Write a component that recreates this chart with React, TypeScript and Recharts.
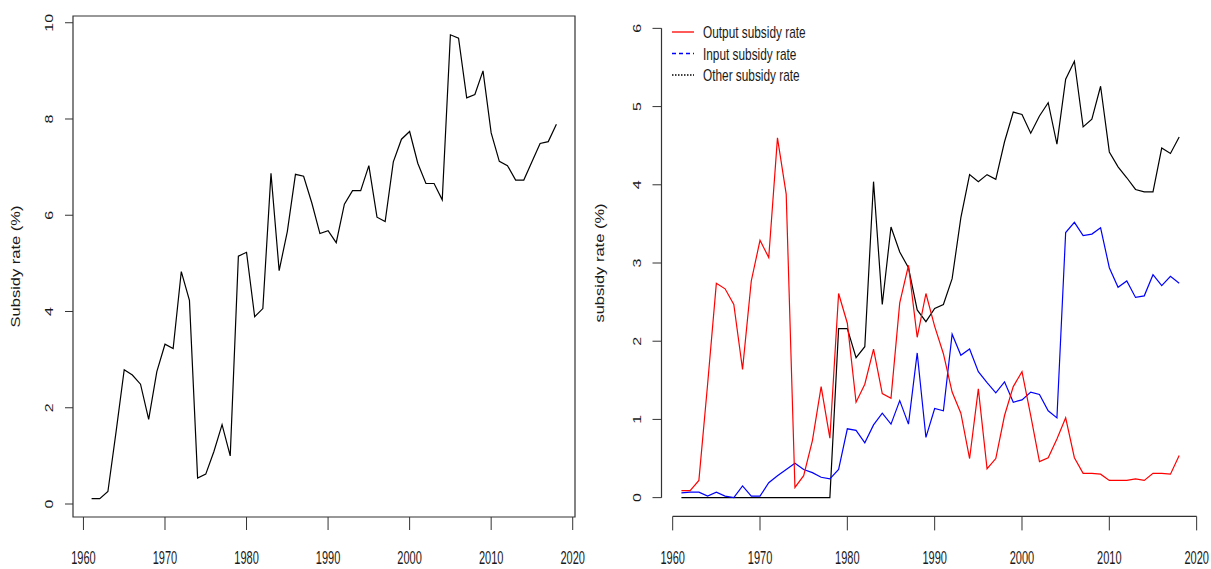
import React from "react";
import {
  LineChart,
  Line,
  XAxis,
  YAxis,
  ReferenceArea,
  ReferenceLine,
  Legend,
} from "recharts";

const years = [
  1961, 1962, 1963, 1964, 1965, 1966, 1967, 1968, 1969, 1970, 1971, 1972,
  1973, 1974, 1975, 1976, 1977, 1978, 1979, 1980, 1981, 1982, 1983, 1984,
  1985, 1986, 1987, 1988, 1989, 1990, 1991, 1992, 1993, 1994, 1995, 1996,
  1997, 1998, 1999, 2000, 2001, 2002, 2003, 2004, 2005, 2006, 2007, 2008,
  2009, 2010, 2011, 2012, 2013, 2014, 2015, 2016, 2017, 2018,
];

// left panel: total subsidy rate
const totalRate = [
  0.11, 0.11, 0.26, 1.5, 2.79, 2.68, 2.49, 1.76, 2.75, 3.32, 3.23, 4.83,
  4.23, 0.54, 0.62, 1.09, 1.65, 1.0, 5.15, 5.23, 3.89, 4.06, 6.87, 4.85,
  5.66, 6.85, 6.81, 6.26, 5.62, 5.68, 5.43, 6.23, 6.51, 6.51, 7.03, 5.96,
  5.87, 7.11, 7.58, 7.74, 7.08, 6.66, 6.66, 6.32, 9.75, 9.68, 8.44, 8.51,
  9.0, 7.71, 7.12, 7.03, 6.73, 6.73, 7.11, 7.49, 7.53, 7.89,
];

// right panel
const outputRate = [
  0.09, 0.09, 0.22, 1.45, 2.74, 2.67, 2.47, 1.64, 2.77, 3.29, 3.07, 4.6,
  3.88, 0.13, 0.28, 0.73, 1.42, 0.76, 2.61, 2.23, 1.22, 1.45, 1.9, 1.33,
  1.27, 2.49, 2.97, 2.05, 2.61, 2.19, 1.84, 1.35, 1.08, 0.5, 1.39, 0.37,
  0.5, 1.05, 1.42, 1.61, 1.05, 0.46, 0.51, 0.75, 1.02, 0.51, 0.31, 0.31,
  0.3, 0.22, 0.22, 0.22, 0.24, 0.22, 0.31, 0.31, 0.3, 0.54,
];
const inputRate = [
  0.06, 0.07, 0.07, 0.02, 0.07, 0.02, 0.0, 0.15, 0.02, 0.02, 0.19, 0.28,
  0.36, 0.44, 0.36, 0.32, 0.26, 0.24, 0.36, 0.88, 0.86, 0.7, 0.93, 1.08,
  0.94, 1.24, 0.94, 1.85, 0.77, 1.14, 1.11, 2.09, 1.82, 1.9, 1.61, 1.47,
  1.34, 1.48, 1.22, 1.25, 1.35, 1.32, 1.11, 1.02, 3.39, 3.52, 3.35, 3.37,
  3.45, 2.94, 2.69, 2.77, 2.56, 2.58, 2.85, 2.71, 2.83, 2.74,
];
const otherRate = [
  0, 0, 0, 0, 0, 0, 0, 0, 0, 0, 0, 0, 0, 0, 0, 0, 0, 0, 2.16, 2.16, 1.79,
  1.93, 4.04, 2.47, 3.46, 3.14, 2.94, 2.4, 2.25, 2.42, 2.47, 2.8, 3.58, 4.13,
  4.04, 4.13, 4.07, 4.55, 4.93, 4.9, 4.66, 4.88, 5.05, 4.52, 5.35, 5.58,
  4.74, 4.84, 5.26, 4.42, 4.23, 4.09, 3.94, 3.91, 3.91, 4.47, 4.4, 4.61,
];

const yearTicks = [1960, 1970, 1980, 1990, 2000, 2010, 2020];
const leftTicks = [0, 2, 4, 6, 8, 10];
const rightTicks = [0, 1, 2, 3, 4, 5, 6];

const legendItems = [
  { label: "Output subsidy rate", color: "#ff0000", dash: undefined },
  { label: "Input subsidy rate", color: "#0000ff", dash: "4 3" },
  { label: "Other subsidy rate", color: "#000000", dash: "1.5 1.5" },
];

const leftData = years.map((year, i) => ({ year, total: totalRate[i] }));
const rightData = years.map((year, i) => ({
  year,
  output: outputRate[i],
  input: inputRate[i],
  other: otherRate[i],
}));

const FONT = "'Liberation Sans', Arial, sans-serif";
const INK = "#1a1a1a";
const AXIS = "#333333";
const X_DOMAIN = [1958.72, 2020.28];

function YearTick({ x, y, payload }: any) {
  return (
    <text
      transform={`translate(${x},${y + 34}) scale(0.63,1)`}
      textAnchor="middle"
      fontSize={17.5}
      fontFamily={FONT}
      fill={INK}
    >
      {payload.value}
    </text>
  );
}

function RateTick({ x, y, payload }: any) {
  return (
    <text
      transform={`translate(${x - 12},${y}) scale(0.72,1) rotate(-90)`}
      textAnchor="middle"
      fontSize={16}
      fontFamily={FONT}
      fill={INK}
    >
      {payload.value}
    </text>
  );
}

function axisTitle(text: string, tx: number) {
  return (props: any) => {
    const vb = props.viewBox || {};
    const cy = (vb.y ?? 0) + (vb.height ?? 0) / 2;
    return (
      <text
        transform={`translate(${tx},${cy}) scale(0.72,1) rotate(-90)`}
        textAnchor="middle"
        fontSize={16.5}
        fontFamily={FONT}
        fill={INK}
      >
        {text}
      </text>
    );
  };
}

function RateLegend() {
  return (
    <svg width={150} height={80} style={{ display: "block" }}>
      {legendItems.map((item, i) => {
        const cy = 20 + i * 21.5;
        return (
          <g key={item.label}>
            <line
              x1={2}
              x2={24}
              y1={cy - 3}
              y2={cy - 3}
              stroke={item.color}
              strokeWidth={1.3}
              strokeDasharray={item.dash}
            />
            <text
              transform={`translate(33,${cy + 3}) scale(0.74,1)`}
              fontSize={16}
              fontFamily={FONT}
              fill={INK}
            >
              {item.label}
            </text>
          </g>
        );
      })}
    </svg>
  );
}

export default function App() {
  return (
    <div
      style={{
        position: "absolute",
        left: 0,
        top: 0,
        width: 1211,
        height: 569,
        background: "#fff",
      }}
    >
      <div style={{ position: "absolute", left: 0, top: 0 }}>
        <LineChart
          width={585}
          height={569}
          data={leftData}
          margin={{ top: 16, right: 10, left: 0, bottom: 0 }}
        >
          <XAxis
            dataKey="year"
            type="number"
            domain={X_DOMAIN}
            ticks={yearTicks}
            allowDataOverflow
            height={52}
            axisLine={false}
            tickLine={{ stroke: AXIS }}
            tickSize={13}
            tickMargin={0}
            tick={<YearTick />}
            interval={0}
          />
          <YAxis
            type="number"
            domain={[-0.27, 10.14]}
            ticks={leftTicks}
            allowDataOverflow
            width={73}
            axisLine={false}
            tickLine={{ stroke: AXIS }}
            tickSize={8}
            tickMargin={0}
            tick={<RateTick />}
            interval={0}
            label={axisTitle("Subsidy rate (%)", 20)}
          />
          <ReferenceArea
            x1={1958.72}
            x2={2020.28}
            y1={-0.27}
            y2={10.14}
            fill="none"
            stroke={AXIS}
            strokeWidth={1.2}
            ifOverflow="visible"
          />
          <Line
            dataKey="total"
            type="linear"
            stroke="#000"
            strokeWidth={1.2}
            dot={false}
            isAnimationActive={false}
          />
        </LineChart>
      </div>
      <div style={{ position: "absolute", left: 585, top: 0 }}>
        <LineChart
          width={626}
          height={569}
          data={rightData}
          margin={{ top: 9.6, right: 11.9, left: 0, bottom: 0 }}
        >
          <XAxis
            dataKey="year"
            type="number"
            domain={X_DOMAIN}
            ticks={yearTicks}
            allowDataOverflow
            height={52.6}
            axisLine={false}
            tickLine={{ stroke: AXIS }}
            tickSize={14}
            tickMargin={0}
            tick={<YearTick />}
            interval={0}
          />
          <YAxis
            type="number"
            domain={[-0.24, 6.24]}
            ticks={rightTicks}
            allowDataOverflow
            width={76.5}
            axisLine={false}
            tickLine={{ stroke: AXIS }}
            tickSize={9}
            tickMargin={0}
            tick={<RateTick />}
            interval={0}
            label={axisTitle("subsidy rate (%)", 19)}
          />
          <ReferenceLine
            segment={[
              { x: 1958.72, y: 0 },
              { x: 1958.72, y: 6 },
            ]}
            stroke={AXIS}
            strokeWidth={1.2}
            ifOverflow="visible"
          />
          <ReferenceLine
            segment={[
              { x: 1960, y: -0.24 },
              { x: 2020, y: -0.24 },
            ]}
            stroke={AXIS}
            strokeWidth={1.2}
            ifOverflow="visible"
          />
          <Legend
            layout="horizontal"
            verticalAlign="middle"
            align="center"
            content={() => <RateLegend />}
            wrapperStyle={{ position: "absolute", left: 85, top: 15, width: 150 }}
          />
          <Line
            dataKey="other"
            type="linear"
            stroke="#000"
            strokeWidth={1.2}
            dot={false}
            isAnimationActive={false}
          />
          <Line
            dataKey="input"
            type="linear"
            stroke="#0000ff"
            strokeWidth={1.2}
            dot={false}
            isAnimationActive={false}
          />
          <Line
            dataKey="output"
            type="linear"
            stroke="#ff0000"
            strokeWidth={1.2}
            dot={false}
            isAnimationActive={false}
          />
        </LineChart>
      </div>
    </div>
  );
}
